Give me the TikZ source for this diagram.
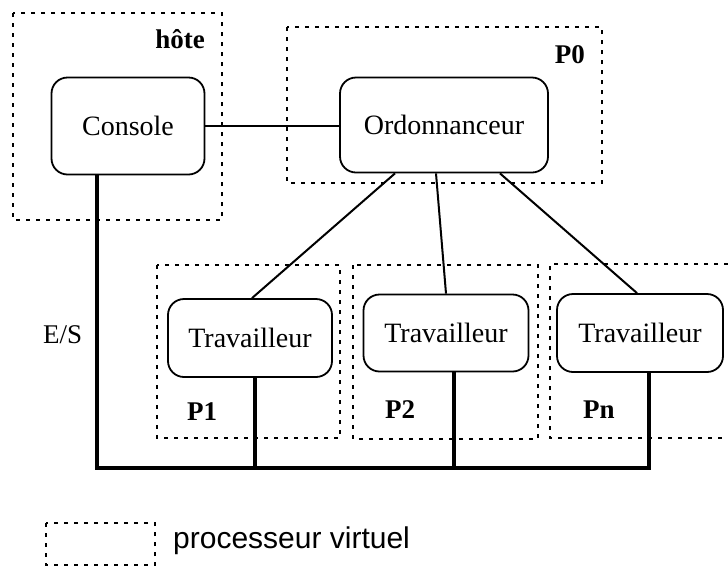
\documentclass[tikz,border=0pt]{standalone}
\usepackage{fontspec}
\setmainfont{Liberation Serif}
\setsansfont{Liberation Sans}

\tikzset{
  procbox/.style={draw, line width=1.8pt, rounded corners=16pt, inner sep=0pt,
    font=\fontsize{28}{32}\selectfont},
  virt/.style={line width=2.3pt, dash pattern=on 4pt off 6pt},
  bus/.style={line width=4.5pt},
  link/.style={line width=2pt},
  tag/.style={inner sep=0pt, font=\bfseries\fontsize{27}{30}\selectfont}
}

\begin{document}
\begin{tikzpicture}[x=1pt,y=-1pt]
	\useasboundingbox (0,0) rectangle (728,566);

	% processeurs virtuels
	\draw [virt] (13,13) rectangle (222,220);
	\draw [virt] (287,27) rectangle (602,183);
	\draw [virt] (157,265) rectangle (340,438);
	\draw [virt] (353,265) rectangle (538,439);
	\draw [virt] (728,264) -- (550,264) -- (550,438) -- (728,438);

	\node [tag, anchor=base east] (hote) at (205,48) {hôte};
	\node [tag, anchor=base east] (P0) at (585,63) {P0};
	\node [tag, anchor=base west] (P1) at (187,420) {P1};
	\node [tag, anchor=base west] (P2) at (385,418) {P2};
	\node [tag, anchor=base west] (Pn) at (583,418) {Pn};

	% processus
	\node [procbox, minimum width=153pt, minimum height=97pt] (Console) at (128,126) {Console};
	\node [procbox, minimum width=208pt, minimum height=95pt] (Ordo) at (444,125) {Ordonnanceur};
	\node [procbox, minimum width=164pt, minimum height=78pt] (T1) at (250,338) {Travailleur};
	\node [procbox, minimum width=165pt, minimum height=77pt] (T2) at (446,333) {Travailleur};
	\node [procbox, minimum width=166pt, minimum height=78pt] (T3) at (640,333) {Travailleur};

	\draw [link] (Console.east) -- (Console.east -| Ordo.west);
	\draw [link] ([xshift=-49pt]Ordo.south) -- ([xshift=2pt]T1.north);
	\draw [link] ([xshift=-8pt]Ordo.south) -- (T2.north);
	\draw [link] ([xshift=56pt]Ordo.south) -- ([xshift=-3pt]T3.north);

	% entrees/sorties
	\coordinate (busL) at (97,468);
	\draw [bus] ([xshift=-31pt]Console.south) -- (busL) -| ([xshift=9pt]T3.south);
	\draw [bus] (T1.south) ++(5pt,0) coordinate (t1b) -- (t1b |- busL);
	\draw [bus] (T2.south) ++(8pt,0) coordinate (t2b) -- (t2b |- busL);
	\node [anchor=base west, inner sep=0pt, font=\fontsize{27}{30}\selectfont] (ES) at (43,343) {E/S};

	% legende
	\draw [virt] (46,523) rectangle (155,565);
	\node [anchor=base west, inner sep=0pt, font=\sffamily\fontsize{30}{34}\selectfont] (leg) at (173,548) {processeur virtuel};
\end{tikzpicture}
\end{document}
